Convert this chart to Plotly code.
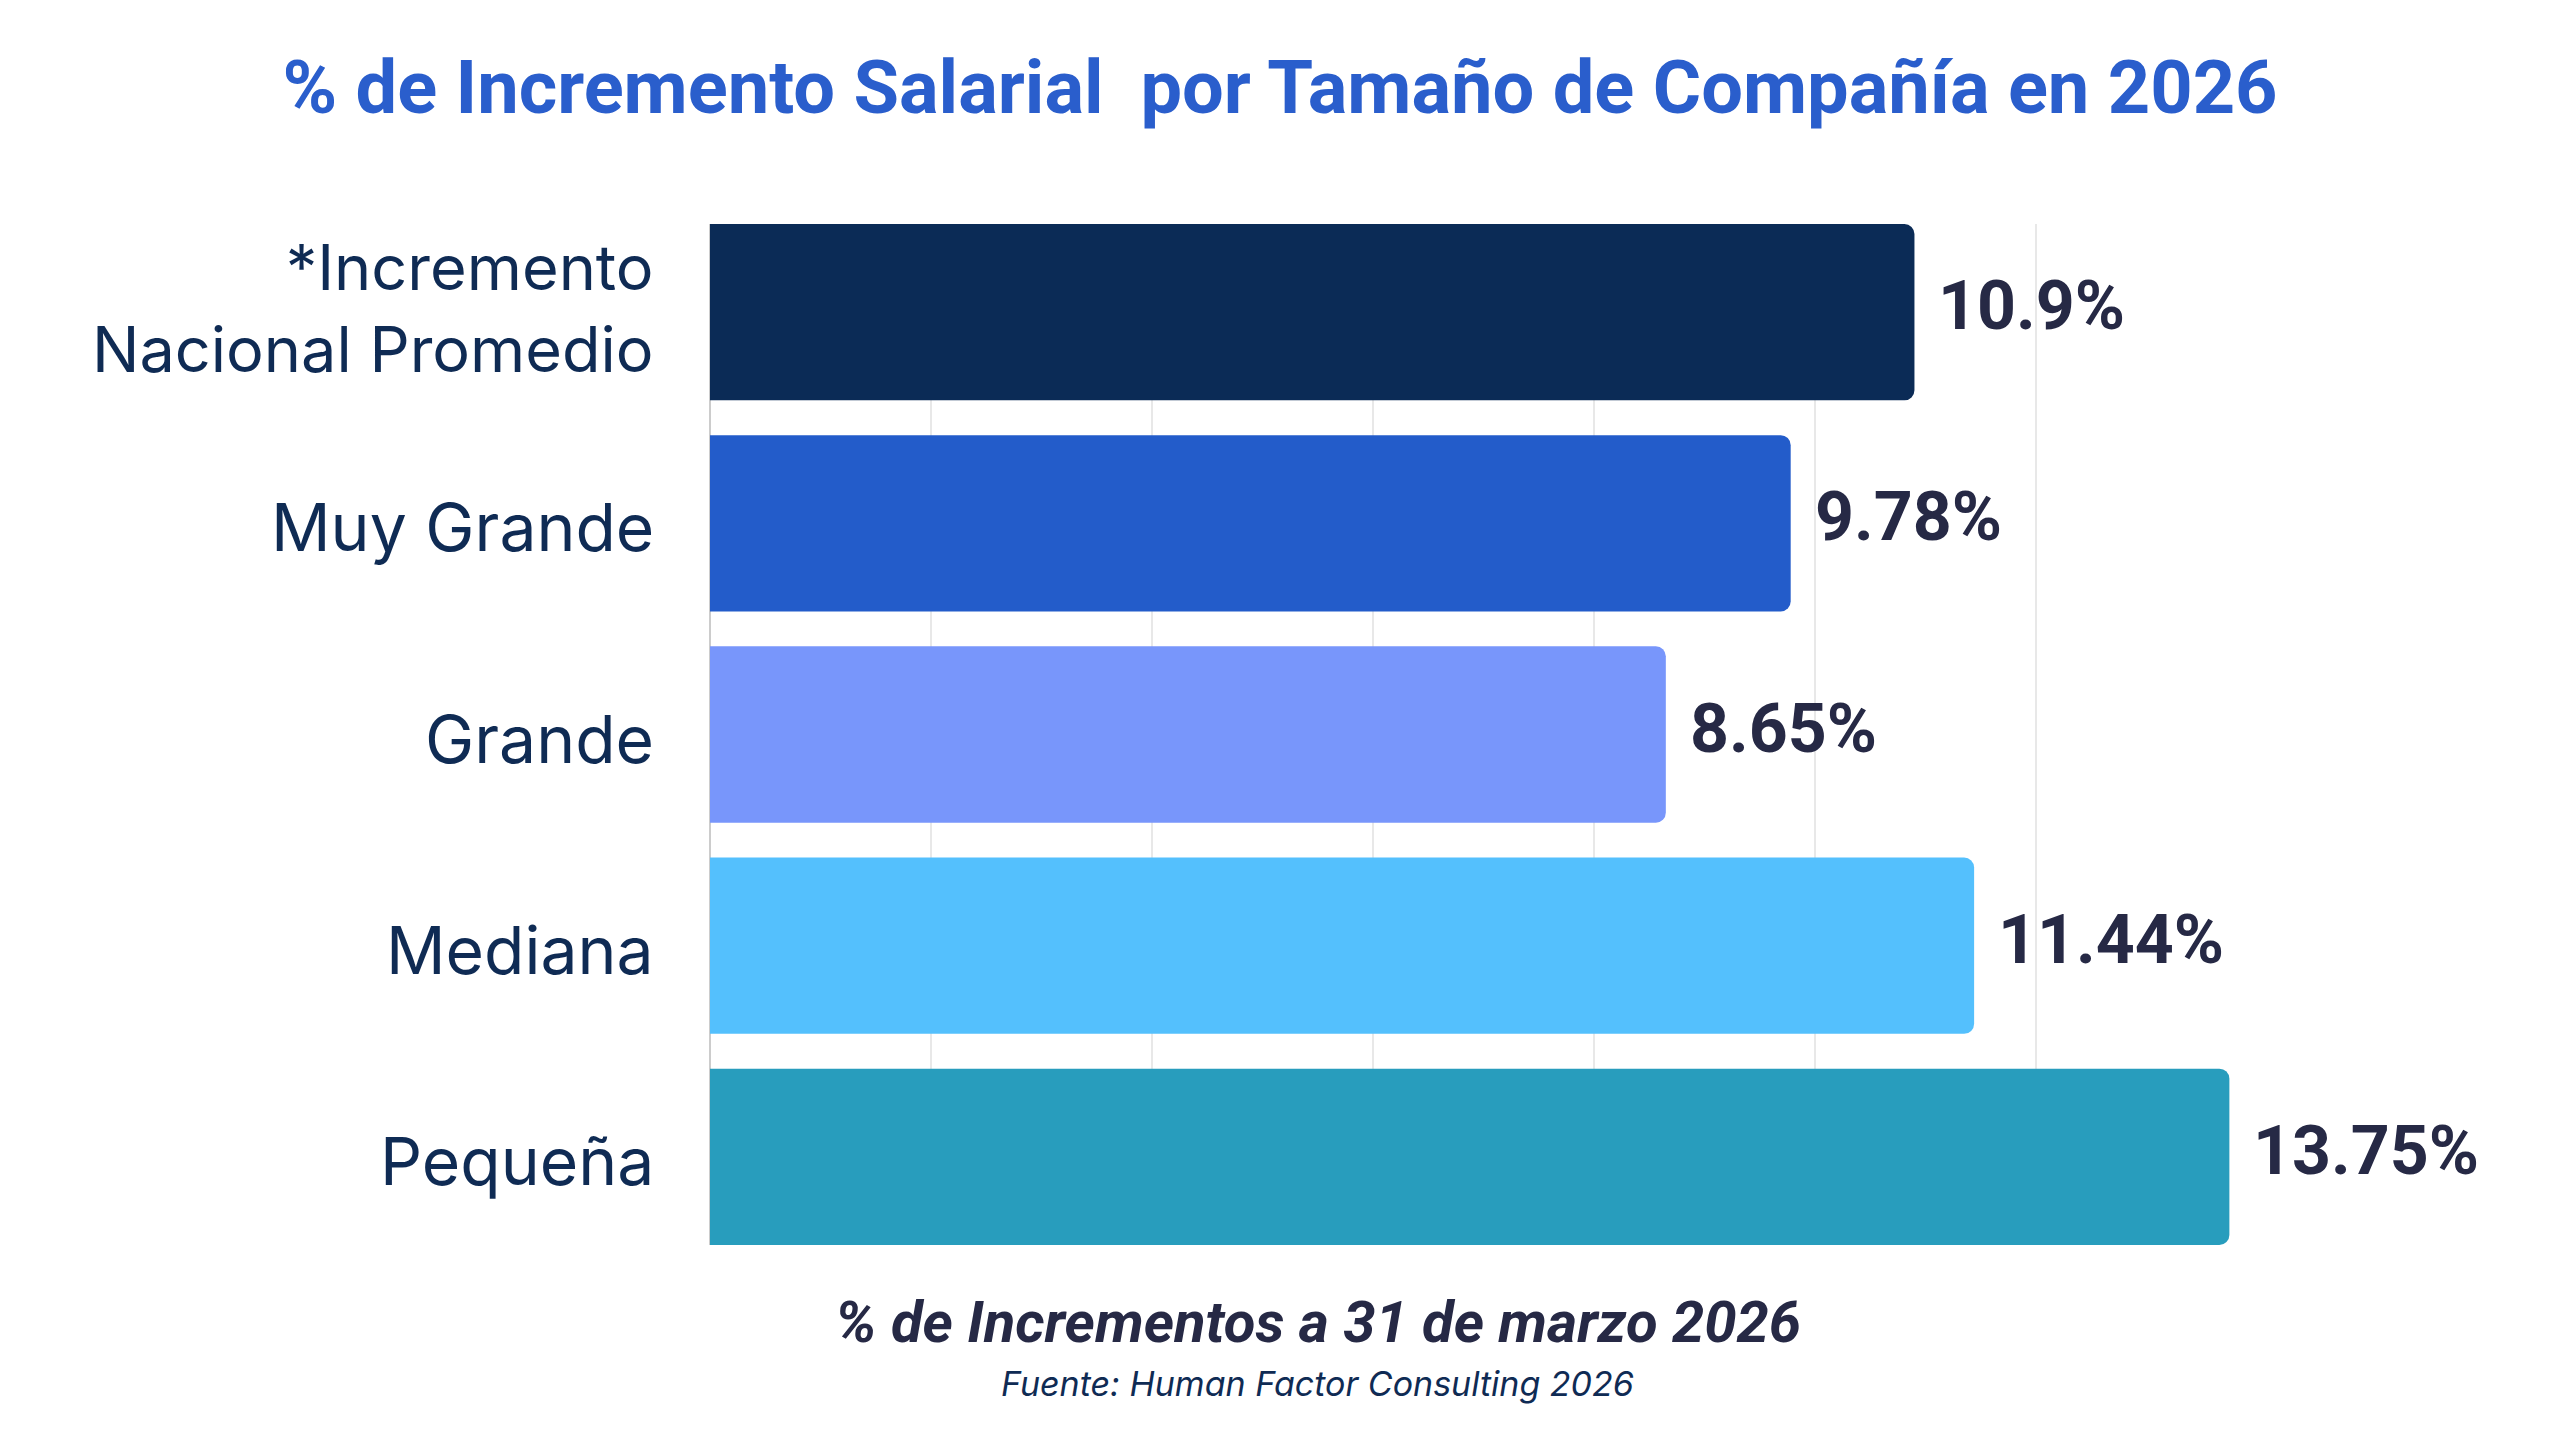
import plotly.graph_objects as go

# data
categories = ["*Incremento Nacional Promedio", "Muy Grande", "Grande", "Mediana", "Pequeña"]
tick_labels = ["*Incremento<br>Nacional Promedio", "Muy Grande", "Grande", "Mediana", "Pequeña"]
values = [10.9, 9.78, 8.65, 11.44, 13.75]
value_text = ["10.9%", "9.78%", "8.65%", "11.44%", "13.75%"]
bar_colors = ["#0B2B56", "#235CCA", "#7896FB", "#54C0FD", "#289DBD"]

title = "% de Incremento Salarial\u00a0 por Tamaño de Compañía en 2026"
subtitle = "% de Incrementos a 31 de marzo 2026"
source = "Fuente: Human Factor Consulting 2026"

W, H = 2560, 1440
bar_frac = 0.835

fig = go.Figure()
fig.add_trace(go.Bar(
    x=values, y=categories, orientation="h",
    marker=dict(color=bar_colors, cornerradius=10, line=dict(width=0)),
    hoverinfo="skip", showlegend=False,
))

annotations = []
# category labels, left of the axis
for cat, lab in zip(categories, tick_labels):
    two = "<br>" in lab
    annotations.append(dict(
        x=0, xref="paper", y=cat, yref="y", text=lab, showarrow=False,
        xanchor="right", yanchor="middle", align="right", xshift=-54,
        yshift=4 if two else -4,
        font=dict(family="Inter", size=63 if two else 66, color="#0F2B54"),
    ))
# value labels at the bar ends
for cat, v, t in zip(categories, values, value_text):
    annotations.append(dict(
        x=v, xref="x", y=cat, yref="y", text=t, showarrow=False,
        xanchor="left", yanchor="middle", xshift=22, yshift=6,
        font=dict(family="Roboto", size=68, color="#262945", weight=700),
    ))
annotations.append(dict(
    x=0.393, xref="paper", y=-0.0754, yref="paper", text=subtitle, showarrow=False,
    xanchor="center", yanchor="middle",
    font=dict(family="Roboto", size=58, color="#262945", weight=700, style="italic"),
))
annotations.append(dict(
    x=0.393, xref="paper", y=-0.136, yref="paper", text=source, showarrow=False,
    xanchor="center", yanchor="middle",
    font=dict(family="Inter", size=34, color="#0F2B54", style="italic"),
))

fig.update_layout(
    width=W, height=H,
    margin=dict(l=702, r=311, t=216, b=203),
    paper_bgcolor="white", plot_bgcolor="white",
    bargap=1 - bar_frac,
    title=dict(
        text=title, x=1272 / W, xref="container", xanchor="center",
        y=1 - 79 / H, yref="container", yanchor="middle",
        font=dict(family="Roboto", size=74, color="#2A5ECC", weight=700),
    ),
    xaxis=dict(range=[0, 14], dtick=2, showticklabels=False, showgrid=True,
               gridcolor="#E8E8E8", gridwidth=2, zeroline=True,
               zerolinecolor="#CCCCCC", zerolinewidth=2, showline=False),
    yaxis=dict(categoryorder="array", categoryarray=categories,
               range=[4 + bar_frac / 2, -bar_frac / 2],
               showticklabels=False, showgrid=False, zeroline=False, showline=False),
    annotations=annotations,
)

fig.write_html("out.html")
